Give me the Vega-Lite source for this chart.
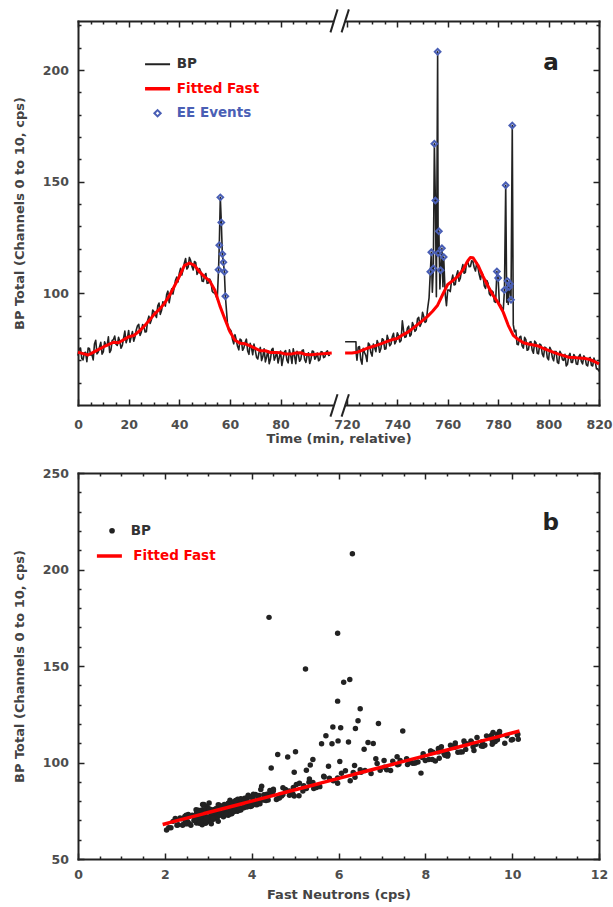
{
"$schema": "https://vega.github.io/schema/vega-lite/v6.json",
"padding": {"left": 13, "top": 8, "right": 0, "bottom": 0},
"autosize": {"type": "pad"},
"background": "white",
"spacing": 68,
"bounds": "flush",
"resolve": {"scale": {"color": "independent", "strokeDash": "independent"}, "legend": {"color": "independent", "strokeDash": "independent"}},
"config": {
  "view": {"stroke": null},
  "font": "DejaVu Sans",
  "axis": {"grid": false, "labelFont": "DejaVu Sans", "labelFontWeight": "bold", "labelFontSize": 12.5, "labelColor": "#4d4d4d", "titleFont": "DejaVu Sans", "titleFontWeight": "bold", "titleFontSize": 13, "titleColor": "#444444", "domainColor": "#222222", "domainWidth": 2, "domainCap": "square", "tickColor": "#222222", "tickWidth": 1.5},
  "legend": {"labelFont": "DejaVu Sans", "labelFontWeight": "bold", "labelFontSize": 13.5}
},
"datasets": {
"bp": [
{"t":0,"bp":72.1,"fn":2.92,"g":1},{"t":1,"bp":75.5,"fn":2.87,"g":1},{"t":2,"bp":70.2,"fn":2.82,"g":1},{"t":3,"bp":73.6,"fn":2.77,"g":1},{"t":4,"bp":75.5,"fn":2.72,"g":1},{"t":5,"bp":72.4,"fn":2.82,"g":1},{"t":6,"bp":70.2,"fn":2.92,"g":1},{"t":7,"bp":79.0,"fn":3.02,"g":1},{"t":8,"bp":73.7,"fn":3.12,"g":1},{"t":9,"bp":78.1,"fn":3.23,"g":1},
{"t":10,"bp":73.8,"fn":3.33,"g":1},{"t":11,"bp":76.9,"fn":3.41,"g":1},{"t":12,"bp":80.5,"fn":3.50,"g":1},{"t":13,"bp":74.6,"fn":3.58,"g":1},{"t":14,"bp":79.3,"fn":3.69,"g":1},{"t":15,"bp":77.2,"fn":3.67,"g":1},{"t":16,"bp":80.3,"fn":3.65,"g":1},{"t":17,"bp":75.4,"fn":3.75,"g":1},{"t":18,"bp":79.9,"fn":3.87,"g":1},{"t":19,"bp":77.9,"fn":3.97,"g":1},
{"t":20,"bp":83.4,"fn":4.09,"g":1},{"t":21,"bp":80.5,"fn":4.14,"g":1},{"t":22,"bp":78.6,"fn":4.19,"g":1},{"t":23,"bp":83.6,"fn":4.35,"g":1},{"t":24,"bp":86.1,"fn":4.50,"g":1},{"t":25,"bp":82.6,"fn":4.69,"g":1},{"t":26,"bp":85.3,"fn":4.87,"g":1},{"t":27,"bp":82.8,"fn":5.09,"g":1},{"t":28,"bp":89.8,"fn":5.32,"g":1},{"t":29,"bp":88.2,"fn":5.55,"g":1},
{"t":30,"bp":91.8,"fn":5.79,"g":1},{"t":31,"bp":89.2,"fn":5.98,"g":1},{"t":32,"bp":95.7,"fn":6.16,"g":1},{"t":33,"bp":92.3,"fn":6.38,"g":1},{"t":34,"bp":95.9,"fn":6.61,"g":1},{"t":35,"bp":99.5,"fn":6.89,"g":1},{"t":36,"bp":95.8,"fn":7.20,"g":1},{"t":37,"bp":102.0,"fn":7.57,"g":1},{"t":38,"bp":102.6,"fn":7.93,"g":1},{"t":39,"bp":107.3,"fn":8.30,"g":1},
{"t":40,"bp":109.0,"fn":8.68,"g":1},{"t":41,"bp":108.2,"fn":9.10,"g":1},{"t":42,"bp":113.6,"fn":9.51,"g":1},{"t":43,"bp":110.9,"fn":9.61,"g":1},{"t":44,"bp":116.1,"fn":9.71,"g":1},{"t":45,"bp":112.1,"fn":9.61,"g":1},{"t":46,"bp":114.3,"fn":9.53,"g":1},{"t":47,"bp":108.5,"fn":9.29,"g":1},{"t":48,"bp":111.1,"fn":9.05,"g":1},{"t":49,"bp":105.5,"fn":8.85,"g":1},
{"t":50,"bp":107.9,"fn":8.66,"g":1},{"t":51,"bp":104.5,"fn":8.51,"g":1},{"t":52,"bp":106.4,"fn":8.36,"g":1},{"t":53,"bp":101.0,"fn":8.00,"g":1},{"t":54,"bp":100.3,"fn":7.66,"g":1},{"t":55,"bp":97.5,"fn":7.06,"g":1},
{"t":0.5,"bp":75.3,"fn":2.90,"g":1},{"t":1.5,"bp":70.8,"fn":2.84,"g":1},{"t":2.5,"bp":73.4,"fn":2.79,"g":1},{"t":3.5,"bp":69.4,"fn":2.74,"g":1},{"t":4.5,"bp":75.3,"fn":2.77,"g":1},{"t":5.5,"bp":72.6,"fn":2.87,"g":1},{"t":6.5,"bp":77.3,"fn":2.97,"g":1},{"t":7.5,"bp":72.9,"fn":3.07,"g":1},{"t":8.5,"bp":76.0,"fn":3.18,"g":1},{"t":9.5,"bp":72.8,"fn":3.28,"g":1},
{"t":10.5,"bp":78.3,"fn":3.37,"g":1},{"t":11.5,"bp":76.6,"fn":3.46,"g":1},{"t":12.5,"bp":73.5,"fn":3.54,"g":1},{"t":13.5,"bp":78.9,"fn":3.63,"g":1},{"t":14.5,"bp":80.9,"fn":3.68,"g":1},{"t":15.5,"bp":76.7,"fn":3.66,"g":1},{"t":16.5,"bp":78.5,"fn":3.70,"g":1},{"t":17.5,"bp":76.7,"fn":3.81,"g":1},{"t":18.5,"bp":83.1,"fn":3.92,"g":1},{"t":19.5,"bp":79.8,"fn":4.03,"g":1},
{"t":20.5,"bp":78.1,"fn":4.12,"g":1},{"t":21.5,"bp":82.9,"fn":4.17,"g":1},{"t":22.5,"bp":80.5,"fn":4.27,"g":1},{"t":23.5,"bp":85.5,"fn":4.42,"g":1},{"t":24.5,"bp":81.2,"fn":4.59,"g":1},{"t":25.5,"bp":86.0,"fn":4.78,"g":1},{"t":26.5,"bp":82.7,"fn":4.98,"g":1},{"t":27.5,"bp":87.9,"fn":5.20,"g":1},{"t":28.5,"bp":86.5,"fn":5.43,"g":1},{"t":29.5,"bp":92.5,"fn":5.67,"g":1},
{"t":30.5,"bp":90.5,"fn":5.88,"g":1},{"t":31.5,"bp":94.4,"fn":6.07,"g":1},{"t":32.5,"bp":90.6,"fn":6.27,"g":1},{"t":33.5,"bp":96.2,"fn":6.50,"g":1},{"t":34.5,"bp":94.3,"fn":6.75,"g":1},{"t":35.5,"bp":101.0,"fn":7.05,"g":1},{"t":36.5,"bp":99.1,"fn":7.39,"g":1},{"t":37.5,"bp":99.7,"fn":7.75,"g":1},{"t":38.5,"bp":105.9,"fn":8.12,"g":1},{"t":39.5,"bp":105.1,"fn":8.49,"g":1},
{"t":40.5,"bp":111.2,"fn":8.89,"g":1},{"t":41.5,"bp":110.7,"fn":9.31,"g":1},{"t":42.5,"bp":115.6,"fn":9.56,"g":1},{"t":43.5,"bp":111.8,"fn":9.66,"g":1},{"t":44.5,"bp":114.7,"fn":9.66,"g":1},{"t":45.5,"bp":110.5,"fn":9.57,"g":1},{"t":46.5,"bp":113.8,"fn":9.41,"g":1},{"t":47.5,"bp":109.5,"fn":9.17,"g":1},{"t":48.5,"bp":109.7,"fn":8.95,"g":1},{"t":49.5,"bp":105.3,"fn":8.75,"g":1},
{"t":50.5,"bp":108.9,"fn":8.58,"g":1},{"t":51.5,"bp":104.7,"fn":8.43,"g":1},{"t":52.5,"bp":105.3,"fn":8.18,"g":1},{"t":53.5,"bp":100.3,"fn":7.83,"g":1},{"t":54.5,"bp":98.8,"fn":7.36,"g":1},
{"t":55.5,"bp":110.6,"fn":6.23,"g":1,"ee":1},{"t":55.8,"bp":121.6,"fn":6.45,"g":1,"ee":1},{"t":56.2,"bp":143.0,"fn":6.26,"g":1,"ee":1},{"t":56.6,"bp":131.8,"fn":5.98,"g":1,"ee":1},{"t":57.0,"bp":117.6,"fn":6.39,"g":1,"ee":1},{"t":57.4,"bp":113.9,"fn":5.71,"g":1,"ee":1},{"t":57.8,"bp":109.7,"fn":5.61,"g":1,"ee":1},{"t":58.2,"bp":98.7,"fn":5.35,"g":1,"ee":1},
{"t":59,"bp":87.0,"fn":4.96,"g":1},{"t":60,"bp":83.9,"fn":4.48,"g":1},{"t":61,"bp":79.4,"fn":4.16,"g":1},{"t":62,"bp":81.5,"fn":3.84,"g":1},{"t":63,"bp":76.3,"fn":3.72,"g":1},{"t":64,"bp":79.5,"fn":3.62,"g":1},{"t":65,"bp":74.5,"fn":3.58,"g":1},{"t":66,"bp":78.0,"fn":3.57,"g":1},{"t":67,"bp":74.2,"fn":3.50,"g":1},{"t":68,"bp":77.6,"fn":3.41,"g":1},{"t":69,"bp":72.5,"fn":3.33,"g":1},
{"t":70,"bp":74.6,"fn":3.23,"g":1},{"t":71,"bp":70.6,"fn":3.12,"g":1},{"t":72,"bp":75.8,"fn":3.04,"g":1},{"t":73,"bp":71.7,"fn":3.04,"g":1},{"t":74,"bp":69.3,"fn":3.04,"g":1},{"t":75,"bp":74.3,"fn":2.97,"g":1},{"t":76,"bp":70.5,"fn":2.90,"g":1},{"t":77,"bp":75.4,"fn":2.90,"g":1},{"t":78,"bp":71.7,"fn":2.90,"g":1},{"t":79,"bp":68.8,"fn":2.89,"g":1},
{"t":80,"bp":74.2,"fn":2.89,"g":1},{"t":81,"bp":70.8,"fn":2.84,"g":1},{"t":82,"bp":74.4,"fn":2.79,"g":1},{"t":83,"bp":68.9,"fn":2.79,"g":1},{"t":84,"bp":72.2,"fn":2.79,"g":1},{"t":85,"bp":75.2,"fn":2.82,"g":1},{"t":86,"bp":68.5,"fn":2.87,"g":1},{"t":87,"bp":72.8,"fn":2.87,"g":1},{"t":88,"bp":70.5,"fn":2.89,"g":1},{"t":89,"bp":74.7,"fn":2.82,"g":1},
{"t":90,"bp":69.1,"fn":2.75,"g":1},{"t":91,"bp":73.4,"fn":2.73,"g":1},{"t":92,"bp":70.5,"fn":2.73,"g":1},{"t":93,"bp":74.0,"fn":2.75,"g":1},{"t":94,"bp":71.5,"fn":2.77,"g":1},{"t":95,"bp":69.8,"fn":2.79,"g":1},{"t":96,"bp":73.9,"fn":2.80,"g":1},{"t":97,"bp":71.2,"fn":2.82,"g":1},{"t":98,"bp":73.7,"fn":2.84,"g":1},{"t":99,"bp":72.2,"fn":2.85,"g":1},
{"t":59.5,"bp":83.4,"fn":4.72,"g":1},{"t":60.5,"bp":83.1,"fn":4.32,"g":1},{"t":61.5,"bp":77.4,"fn":4.00,"g":1},{"t":62.5,"bp":79.1,"fn":3.78,"g":1},{"t":63.5,"bp":74.7,"fn":3.67,"g":1},{"t":64.5,"bp":79.1,"fn":3.60,"g":1},{"t":65.5,"bp":75.6,"fn":3.57,"g":1},{"t":66.5,"bp":79.5,"fn":3.53,"g":1},{"t":67.5,"bp":72.7,"fn":3.46,"g":1},{"t":68.5,"bp":75.7,"fn":3.37,"g":1},{"t":69.5,"bp":77.3,"fn":3.28,"g":1},
{"t":70.5,"bp":71.4,"fn":3.18,"g":1},{"t":71.5,"bp":73.6,"fn":3.08,"g":1},{"t":72.5,"bp":69.9,"fn":3.04,"g":1},{"t":73.5,"bp":75.2,"fn":3.04,"g":1},{"t":74.5,"bp":71.6,"fn":3.01,"g":1},{"t":75.5,"bp":68.5,"fn":2.94,"g":1},{"t":76.5,"bp":74.8,"fn":2.90,"g":1},{"t":77.5,"bp":70.1,"fn":2.90,"g":1},{"t":78.5,"bp":73.7,"fn":2.90,"g":1},{"t":79.5,"bp":71.3,"fn":2.89,"g":1},
{"t":80.5,"bp":67.7,"fn":2.86,"g":1},{"t":81.5,"bp":73.7,"fn":2.81,"g":1},{"t":82.5,"bp":70.1,"fn":2.79,"g":1},{"t":83.5,"bp":74.7,"fn":2.79,"g":1},{"t":84.5,"bp":68.6,"fn":2.80,"g":1},{"t":85.5,"bp":72.0,"fn":2.84,"g":1},{"t":86.5,"bp":74.1,"fn":2.87,"g":1},{"t":87.5,"bp":69.6,"fn":2.88,"g":1},{"t":88.5,"bp":74.4,"fn":2.85,"g":1},{"t":89.5,"bp":70.4,"fn":2.79,"g":1},
{"t":90.5,"bp":72.3,"fn":2.74,"g":1},{"t":91.5,"bp":68.6,"fn":2.73,"g":1},{"t":92.5,"bp":74.2,"fn":2.74,"g":1},{"t":93.5,"bp":70.5,"fn":2.76,"g":1},{"t":94.5,"bp":73.3,"fn":2.78,"g":1},{"t":95.5,"bp":70.3,"fn":2.79,"g":1},{"t":96.5,"bp":73.7,"fn":2.81,"g":1},{"t":97.5,"bp":71.6,"fn":2.83,"g":1},{"t":98.5,"bp":74.3,"fn":2.84,"g":1},{"t":99.5,"bp":72.4,"fn":2.86,"g":1},
{"t":719.3,"bp":78.3,"fn":2.87,"g":2},{"t":723.6,"bp":78.3,"fn":2.90,"g":2},{"t":723.7,"bp":73.2,"fn":2.90,"g":2},{"t":724,"bp":70.1,"fn":2.92,"g":2},{"t":725,"bp":76.2,"fn":2.99,"g":2},{"t":726,"bp":68.3,"fn":3.07,"g":2},{"t":727,"bp":73.5,"fn":3.16,"g":2},{"t":728,"bp":69.5,"fn":3.23,"g":2},{"t":729,"bp":77.0,"fn":3.29,"g":2},
{"t":730,"bp":71.9,"fn":3.35,"g":2},{"t":731,"bp":75.8,"fn":3.41,"g":2},{"t":732,"bp":78.9,"fn":3.46,"g":2},{"t":733,"bp":73.6,"fn":3.53,"g":2},{"t":734,"bp":79.7,"fn":3.60,"g":2},{"t":735,"bp":75.0,"fn":3.67,"g":2},{"t":736,"bp":81.2,"fn":3.75,"g":2},{"t":737,"bp":76.5,"fn":3.82,"g":2},{"t":738,"bp":80.6,"fn":3.89,"g":2},{"t":739,"bp":77.4,"fn":3.94,"g":2},
{"t":740,"bp":82.3,"fn":3.97,"g":2},{"t":741,"bp":78.2,"fn":4.09,"g":2},{"t":742,"bp":87.7,"fn":4.23,"g":2},{"t":743,"bp":80.3,"fn":4.33,"g":2},{"t":744,"bp":84.4,"fn":4.43,"g":2},{"t":745,"bp":80.8,"fn":4.57,"g":2},{"t":746,"bp":86.9,"fn":4.72,"g":2},{"t":747,"bp":83.0,"fn":4.87,"g":2},{"t":748,"bp":88.6,"fn":5.03,"g":2},{"t":749,"bp":85.2,"fn":5.18,"g":2},
{"t":750,"bp":91.5,"fn":5.33,"g":2},{"t":751,"bp":87.0,"fn":5.49,"g":2},{"t":752,"bp":92.9,"fn":5.66,"g":2},{"t":752.6,"bp":98.0,"fn":5.77,"g":2},
{"t":724.5,"bp":75.9,"fn":2.96,"g":2},{"t":725.5,"bp":70.4,"fn":3.03,"g":2},{"t":726.5,"bp":75.4,"fn":3.12,"g":2},{"t":727.5,"bp":72.2,"fn":3.19,"g":2},{"t":728.5,"bp":77.8,"fn":3.26,"g":2},{"t":729.5,"bp":73.5,"fn":3.32,"g":2},{"t":730.5,"bp":77.3,"fn":3.38,"g":2},{"t":731.5,"bp":73.9,"fn":3.44,"g":2},{"t":732.5,"bp":77.4,"fn":3.50,"g":2},{"t":733.5,"bp":75.3,"fn":3.57,"g":2},
{"t":734.5,"bp":79.2,"fn":3.63,"g":2},{"t":735.5,"bp":75.2,"fn":3.71,"g":2},{"t":736.5,"bp":79.2,"fn":3.79,"g":2},{"t":737.5,"bp":77.3,"fn":3.86,"g":2},{"t":738.5,"bp":82.1,"fn":3.91,"g":2},{"t":739.5,"bp":78.5,"fn":3.96,"g":2},{"t":740.5,"bp":81.1,"fn":4.03,"g":2},{"t":741.5,"bp":78.9,"fn":4.16,"g":2},{"t":742.5,"bp":83.3,"fn":4.28,"g":2},{"t":743.5,"bp":80.6,"fn":4.38,"g":2},
{"t":744.5,"bp":85.3,"fn":4.50,"g":2},{"t":745.5,"bp":81.6,"fn":4.64,"g":2},{"t":746.5,"bp":85.4,"fn":4.80,"g":2},{"t":747.5,"bp":83.7,"fn":4.95,"g":2},{"t":748.5,"bp":89.3,"fn":5.10,"g":2},{"t":749.5,"bp":86.5,"fn":5.26,"g":2},{"t":750.5,"bp":89.6,"fn":5.41,"g":2},{"t":751.5,"bp":87.5,"fn":5.57,"g":2},
{"t":753.1,"bp":109.7,"fn":5.85,"g":2,"ee":1},{"t":753.5,"bp":118.4,"fn":5.87,"g":2,"ee":1},{"t":753.9,"bp":100.5,"fn":6.03,"g":2},{"t":754.3,"bp":111.2,"fn":5.99,"g":2,"ee":1},{"t":754.7,"bp":167.0,"fn":5.98,"g":2,"ee":1},{"t":755.1,"bp":141.6,"fn":6.12,"g":2,"ee":1},{"t":755.5,"bp":98.5,"fn":6.37,"g":2},
{"t":756.0,"bp":208.2,"fn":6.32,"g":2,"ee":1},{"t":756.2,"bp":118.0,"fn":6.05,"g":2,"ee":1},{"t":756.5,"bp":127.8,"fn":6.50,"g":2,"ee":1},{"t":756.9,"bp":102.0,"fn":6.86,"g":2},{"t":757.2,"bp":110.4,"fn":6.68,"g":2,"ee":1},{"t":757.7,"bp":120.2,"fn":6.92,"g":2,"ee":1},{"t":758.1,"bp":103.0,"fn":7.35,"g":2},{"t":758.4,"bp":116.3,"fn":7.48,"g":2,"ee":1},
{"t":759,"bp":99.6,"fn":7.71,"g":2},{"t":759.5,"bp":94.5,"fn":7.90,"g":2},{"t":760,"bp":101.5,"fn":8.08,"g":2},{"t":761,"bp":100.8,"fn":8.23,"g":2},{"t":762,"bp":108.2,"fn":8.37,"g":2},{"t":763,"bp":104.0,"fn":8.52,"g":2},{"t":764,"bp":110.1,"fn":8.69,"g":2},{"t":765,"bp":106.8,"fn":8.93,"g":2},{"t":766,"bp":112.9,"fn":9.19,"g":2},{"t":767,"bp":109.4,"fn":9.54,"g":2},
{"t":768,"bp":113.8,"fn":9.88,"g":2},{"t":769,"bp":112.0,"fn":10.14,"g":2},{"t":770,"bp":114.3,"fn":10.12,"g":2},{"t":771,"bp":110.0,"fn":9.83,"g":2},{"t":772,"bp":111.5,"fn":9.54,"g":2},{"t":773,"bp":106.2,"fn":9.12,"g":2},{"t":774,"bp":108.0,"fn":8.69,"g":2},{"t":775,"bp":102.2,"fn":8.32,"g":2},{"t":776,"bp":104.5,"fn":7.95,"g":2},{"t":777,"bp":99.0,"fn":7.59,"g":2},
{"t":778,"bp":100.6,"fn":7.25,"g":2},{"t":779,"bp":96.0,"fn":6.96,"g":2},
{"t":760.5,"bp":101.5,"fn":8.16,"g":2},{"t":761.5,"bp":105.5,"fn":8.30,"g":2},{"t":762.5,"bp":103.8,"fn":8.45,"g":2},{"t":763.5,"bp":108.1,"fn":8.61,"g":2},{"t":764.5,"bp":105.4,"fn":8.81,"g":2},{"t":765.5,"bp":110.6,"fn":9.06,"g":2},{"t":766.5,"bp":109.0,"fn":9.37,"g":2},{"t":767.5,"bp":114.2,"fn":9.71,"g":2},{"t":768.5,"bp":111.9,"fn":10.01,"g":2},{"t":769.5,"bp":114.6,"fn":10.13,"g":2},
{"t":770.5,"bp":111.6,"fn":9.98,"g":2},{"t":771.5,"bp":113.8,"fn":9.69,"g":2},{"t":772.5,"bp":108.4,"fn":9.33,"g":2},{"t":773.5,"bp":109.4,"fn":8.91,"g":2},{"t":774.5,"bp":103.3,"fn":8.51,"g":2},{"t":775.5,"bp":105.8,"fn":8.13,"g":2},{"t":776.5,"bp":99.8,"fn":7.77,"g":2},{"t":777.5,"bp":101.1,"fn":7.42,"g":2},{"t":778.5,"bp":96.3,"fn":7.11,"g":2},
{"t":779.5,"bp":109.8,"fn":6.80,"g":2,"ee":1},{"t":780,"bp":106.9,"fn":6.59,"g":2,"ee":1},{"t":780.5,"bp":95.0,"fn":6.52,"g":2},{"t":781,"bp":94.8,"fn":6.34,"g":2},{"t":782,"bp":92.0,"fn":5.98,"g":2},
{"t":782.5,"bp":101.5,"fn":5.41,"g":2,"ee":1},{"t":783.0,"bp":148.4,"fn":5.24,"g":2,"ee":1},{"t":783.4,"bp":96.0,"fn":5.26,"g":2},{"t":783.7,"bp":105.6,"fn":5.01,"g":2,"ee":1},{"t":784.0,"bp":95.0,"fn":4.98,"g":2},{"t":784.4,"bp":102.8,"fn":4.83,"g":2,"ee":1},{"t":784.7,"bp":104.2,"fn":4.60,"g":2,"ee":1},{"t":785.1,"bp":97.1,"fn":4.45,"g":2,"ee":1},{"t":785.6,"bp":175.2,"fn":4.40,"g":2,"ee":1},
{"t":786,"bp":86.0,"fn":4.21,"g":2},{"t":787,"bp":83.5,"fn":4.04,"g":2},{"t":788,"bp":77.0,"fn":3.89,"g":2},{"t":789,"bp":80.8,"fn":3.77,"g":2},{"t":790,"bp":75.5,"fn":3.65,"g":2},{"t":791,"bp":79.3,"fn":3.60,"g":2},{"t":792,"bp":74.8,"fn":3.55,"g":2},{"t":793,"bp":78.4,"fn":3.52,"g":2},{"t":794,"bp":73.2,"fn":3.48,"g":2},{"t":795,"bp":77.9,"fn":3.43,"g":2},
{"t":796,"bp":72.9,"fn":3.40,"g":2},{"t":797,"bp":76.8,"fn":3.29,"g":2},{"t":798,"bp":71.6,"fn":3.21,"g":2},{"t":799,"bp":75.6,"fn":3.14,"g":2},{"t":800,"bp":70.2,"fn":3.07,"g":2},{"t":801,"bp":74.6,"fn":2.99,"g":2},{"t":802,"bp":69.8,"fn":2.92,"g":2},{"t":803,"bp":73.9,"fn":2.85,"g":2},{"t":804,"bp":68.6,"fn":2.79,"g":2},{"t":805,"bp":72.9,"fn":2.72,"g":2},
{"t":806,"bp":70.0,"fn":2.67,"g":2},{"t":807,"bp":67.5,"fn":2.60,"g":2},{"t":808,"bp":71.9,"fn":2.55,"g":2},{"t":809,"bp":69.1,"fn":2.53,"g":2},{"t":810,"bp":72.6,"fn":2.53,"g":2},{"t":811,"bp":68.4,"fn":2.51,"g":2},{"t":812,"bp":71.8,"fn":2.50,"g":2},{"t":813,"bp":69.5,"fn":2.48,"g":2},{"t":814,"bp":72.0,"fn":2.46,"g":2},{"t":815,"bp":68.0,"fn":2.43,"g":2},
{"t":816,"bp":70.9,"fn":2.39,"g":2},{"t":817,"bp":67.8,"fn":2.31,"g":2},{"t":818,"bp":71.0,"fn":2.24,"g":2},{"t":819,"bp":66.2,"fn":2.14,"g":2},{"t":820,"bp":65.0,"fn":2.04,"g":2},
{"t":786.5,"bp":82.8,"fn":4.13,"g":2},{"t":787.5,"bp":77.2,"fn":3.97,"g":2},{"t":788.5,"bp":80.4,"fn":3.83,"g":2},{"t":789.5,"bp":76.5,"fn":3.71,"g":2},{"t":790.5,"bp":80.3,"fn":3.63,"g":2},{"t":791.5,"bp":74.5,"fn":3.58,"g":2},{"t":792.5,"bp":78.1,"fn":3.53,"g":2},{"t":793.5,"bp":74.6,"fn":3.50,"g":2},{"t":794.5,"bp":78.6,"fn":3.46,"g":2},{"t":795.5,"bp":73.2,"fn":3.41,"g":2},
{"t":796.5,"bp":77.3,"fn":3.35,"g":2},{"t":797.5,"bp":72.9,"fn":3.25,"g":2},{"t":798.5,"bp":75.9,"fn":3.18,"g":2},{"t":799.5,"bp":71.1,"fn":3.11,"g":2},{"t":800.5,"bp":75.8,"fn":3.03,"g":2},{"t":801.5,"bp":71.3,"fn":2.96,"g":2},{"t":802.5,"bp":74.0,"fn":2.89,"g":2},{"t":803.5,"bp":69.1,"fn":2.82,"g":2},{"t":804.5,"bp":74.0,"fn":2.75,"g":2},{"t":805.5,"bp":70.3,"fn":2.69,"g":2},
{"t":806.5,"bp":72.7,"fn":2.63,"g":2},{"t":807.5,"bp":68.2,"fn":2.57,"g":2},{"t":808.5,"bp":73.1,"fn":2.54,"g":2},{"t":809.5,"bp":69.1,"fn":2.53,"g":2},{"t":810.5,"bp":71.7,"fn":2.52,"g":2},{"t":811.5,"bp":68.2,"fn":2.51,"g":2},{"t":812.5,"bp":72.7,"fn":2.49,"g":2},{"t":813.5,"bp":68.4,"fn":2.47,"g":2},{"t":814.5,"bp":71.1,"fn":2.45,"g":2},{"t":815.5,"bp":67.5,"fn":2.41,"g":2},
{"t":816.5,"bp":71.3,"fn":2.35,"g":2},{"t":817.5,"bp":67.5,"fn":2.28,"g":2},{"t":818.5,"bp":69.5,"fn":2.19,"g":2},{"t":819.5,"bp":66.2,"fn":2.09,"g":2}
],
"fit": [
{"t":0,"ff":73.6,"g":1},{"t":2,"ff":73.0,"g":1},{"t":4,"ff":72.4,"g":1},{"t":6,"ff":73.6,"g":1},{"t":8,"ff":74.8,"g":1},{"t":10,"ff":76.0,"g":1},{"t":12,"ff":77.0,"g":1},{"t":14,"ff":78.1,"g":1},{"t":16,"ff":77.9,"g":1},{"t":18,"ff":79.2,"g":1},
{"t":20,"ff":80.5,"g":1},{"t":22,"ff":81.1,"g":1},{"t":24,"ff":82.9,"g":1},{"t":26,"ff":85.1,"g":1},{"t":28,"ff":87.7,"g":1},{"t":30,"ff":90.5,"g":1},{"t":32,"ff":92.7,"g":1},{"t":34,"ff":95.3,"g":1},{"t":36,"ff":98.8,"g":1},{"t":38,"ff":103.1,"g":1},
{"t":40,"ff":107.5,"g":1},{"t":42,"ff":112.4,"g":1},{"t":44,"ff":113.6,"g":1},{"t":46,"ff":112.5,"g":1},{"t":48,"ff":109.7,"g":1},{"t":50,"ff":107.4,"g":1},{"t":52,"ff":105.6,"g":1},{"t":54,"ff":101.5,"g":1},{"t":56,"ff":94.5,"g":1},{"t":58,"ff":88.5,"g":1},
{"t":60,"ff":82.8,"g":1},{"t":62,"ff":79.0,"g":1},{"t":64,"ff":77.7,"g":1},{"t":66,"ff":77.4,"g":1},{"t":68,"ff":76.5,"g":1},{"t":70,"ff":75.4,"g":1},{"t":72,"ff":74.3,"g":1},{"t":74,"ff":74.3,"g":1},{"t":76,"ff":73.5,"g":1},{"t":78,"ff":73.5,"g":1},
{"t":80,"ff":73.4,"g":1},{"t":82,"ff":72.8,"g":1},{"t":84,"ff":72.8,"g":1},{"t":86,"ff":73.3,"g":1},{"t":88,"ff":73.4,"g":1},{"t":90,"ff":72.6,"g":1},{"t":92,"ff":72.5,"g":1},{"t":94,"ff":72.7,"g":1},{"t":96,"ff":72.9,"g":1},{"t":98,"ff":73.1,"g":1},{"t":100.2,"ff":73.3,"g":1},
{"t":719.3,"ff":73.3,"g":2},{"t":722,"ff":73.3,"g":2},{"t":724,"ff":73.6,"g":2},{"t":726,"ff":74.5,"g":2},{"t":728,"ff":75.4,"g":2},{"t":730,"ff":76.1,"g":2},{"t":732,"ff":76.8,"g":2},{"t":734,"ff":77.6,"g":2},{"t":736,"ff":78.5,"g":2},{"t":738,"ff":79.3,"g":2},
{"t":740,"ff":79.8,"g":2},{"t":742,"ff":81.3,"g":2},{"t":744,"ff":82.5,"g":2},{"t":746,"ff":84.2,"g":2},{"t":748,"ff":86.0,"g":2},{"t":750,"ff":87.8,"g":2},{"t":752,"ff":89.7,"g":2},{"t":754,"ff":92.0,"g":2},{"t":756,"ff":94.7,"g":2},{"t":758,"ff":99.5,"g":2},
{"t":760,"ff":104.0,"g":2},{"t":762,"ff":105.7,"g":2},{"t":764,"ff":107.6,"g":2},{"t":766,"ff":110.5,"g":2},{"t":768,"ff":114.6,"g":2},{"t":769,"ff":116.1,"g":2},{"t":770,"ff":116.0,"g":2},{"t":772,"ff":112.6,"g":2},{"t":774,"ff":107.6,"g":2},{"t":776,"ff":103.2,"g":2},
{"t":778,"ff":99.1,"g":2},{"t":780,"ff":95.8,"g":2},{"t":782,"ff":91.6,"g":2},{"t":784,"ff":85.7,"g":2},{"t":786,"ff":81.2,"g":2},{"t":788,"ff":79.3,"g":2},{"t":790,"ff":77.9,"g":2},{"t":792,"ff":77.3,"g":2},{"t":794,"ff":76.9,"g":2},{"t":796,"ff":76.4,"g":2},
{"t":798,"ff":75.3,"g":2},{"t":800,"ff":74.5,"g":2},{"t":802,"ff":73.6,"g":2},{"t":804,"ff":72.8,"g":2},{"t":806,"ff":72.1,"g":2},{"t":808,"ff":71.4,"g":2},{"t":810,"ff":71.3,"g":2},{"t":812,"ff":71.1,"g":2},{"t":814,"ff":70.9,"g":2},{"t":816,"ff":70.5,"g":2},{"t":818,"ff":69.6,"g":2},{"t":820,"ff":68.4,"g":2}
],
"fitb": [{"fn":1.95,"ff":67.9},{"fn":10.17,"ff":116.3}],
"gap": [{"a":100.8,"b":719.2,"c":222},{"a":100.8,"b":719.2,"c":50}],
"brk": [{"a":99.7,"b":102.5,"c":216.9,"d":227.2},{"a":717.9,"b":720.8,"c":216.9,"d":227.2},{"a":99.7,"b":102.5,"c":44.8,"d":54.8},{"a":717.9,"b":720.8,"c":44.8,"d":54.8}]
},
"vconcat": [
{
  "width": 521, "height": 384,
  "resolve": {"axis": {"x": "independent", "y": "independent"}},
  "layer": [
    {
      "data": {"name": "bp"},
      "mark": {"type": "line", "strokeWidth": 1.6, "strokeJoin": "round"},
      "encoding": {
        "x": {"field": "t", "type": "quantitative", "scale": {"domain": [0, 102.6, 716.4, 820], "range": [0, 259.8, 259.8, 521], "nice": false, "zero": false},
              "axis": {"orient": "bottom", "values": [0,20,40,60,80,720,740,760,780,800,820], "format": "d", "tickSize": -6, "labelPadding": 29.5, "labelBaseline": "alphabetic", "labelFlush": false, "labelOverlap": false, "title": "Time (min, relative)", "titleY": 37, "titleBaseline": "alphabetic"}},
        "y": {"field": "bp", "type": "quantitative", "scale": {"domain": [50, 222], "nice": false, "zero": false},
              "axis": {"orient": "left", "values": [100,150,200], "format": "d", "tickSize": -6, "labelPadding": 15.6, "labelFlush": false, "labelOverlap": false, "title": "BP Total (Channels 0 to 10, cps)", "titleX": -59, "titleBaseline": "middle"}},
        "detail": {"field": "g", "type": "nominal"},
        "color": {"datum": "BP", "type": "nominal", "scale": {"domain": ["BP", "Fitted Fast", "EE Events"], "range": ["#222222", "#ff0000", "#4a5fb5"]},
          "legend": {"orient": "none", "legendX": 72.8, "legendY": 36.5, "title": null, "padding": 0, "symbolSize": 625, "rowPadding": 9.5, "labelOffset": 12.5,
            "encode": {
              "symbols": {"update": {
                "shape": {"signal": "datum.value === 'EE Events' ? 'diamond' : 'stroke'"},
                "size": {"signal": "datum.value === 'EE Events' ? 40 : 625"},
                "strokeWidth": {"signal": "datum.value === 'Fitted Fast' ? 3.5 : 2"},
                "stroke": {"signal": "datum.value === 'BP' ? '#222222' : datum.value === 'Fitted Fast' ? '#ff0000' : '#4a5fb5'"},
                "fill": {"value": "transparent"},
                "opacity": {"value": 1}
              }},
              "labels": {"update": {
                "fill": {"signal": "datum.value === 'BP' ? '#333333' : datum.value === 'Fitted Fast' ? '#ff0000' : '#4a5fb5'"}
              }}
            }
          }
        }
      }
    },
    {
      "data": {"name": "fit"},
      "mark": {"type": "line", "strokeWidth": 3, "strokeJoin": "round"},
      "encoding": {
        "x": {"field": "t", "type": "quantitative", "axis": {"orient": "top", "values": [0,20,40,60,80,720,740,760,780,800,820], "tickSize": -6, "labels": false, "title": null}},
        "y": {"field": "ff", "type": "quantitative", "axis": {"orient": "right", "values": [100,150,200], "tickSize": -6, "labels": false, "title": null}},
        "detail": {"field": "g", "type": "nominal"},
        "color": {"datum": "Fitted Fast", "type": "nominal"}
      }
    },
    {
      "data": {"name": "bp"},
      "transform": [{"filter": "datum.ee"}],
      "mark": {"type": "point", "shape": "diamond", "filled": false, "strokeWidth": 2, "size": 32, "opacity": 1},
      "encoding": {
        "x": {"field": "t", "type": "quantitative", "axis": {"orient": "bottom", "values": [5,10,15,25,30,35,45,50,55,65,70,75,85,90,95,725,730,735,745,750,755,765,770,775,785,790,795,805,810,815], "tickSize": -3, "labels": false, "domain": false, "title": null}},
        "y": {"field": "bp", "type": "quantitative", "axis": {"orient": "left", "values": [60,70,80,90,110,120,130,140,160,170,180,190,210,220], "tickSize": -3, "labels": false, "domain": false, "title": null}},
        "color": {"datum": "EE Events", "type": "nominal"}
      }
    },
    {
      "data": {"name": "gap"},
      "mark": {"type": "rule", "color": "white", "strokeWidth": 4},
      "encoding": {
        "x": {"field": "a", "type": "quantitative", "axis": null},
        "x2": {"field": "b"},
        "y": {"field": "c", "type": "quantitative", "axis": null}
      }
    },
    {
      "data": {"name": "brk"},
      "mark": {"type": "rule", "color": "#222222", "strokeWidth": 2},
      "encoding": {
        "x": {"field": "a", "type": "quantitative", "axis": {"orient": "top", "values": [5,10,15,25,30,35,45,50,55,65,70,75,85,90,95,725,730,735,745,750,755,765,770,775,785,790,795,805,810,815], "tickSize": -3, "labels": false, "domain": false, "title": null}},
        "x2": {"field": "b"},
        "y": {"field": "c", "type": "quantitative", "axis": {"orient": "right", "values": [60,70,80,90,110,120,130,140,160,170,180,190,210,220], "tickSize": -3, "labels": false, "domain": false, "title": null}},
        "y2": {"field": "d"}
      }
    },
    {
      "data": {"values": [{}]},
      "mark": {"type": "text", "text": "a", "font": "DejaVu Sans", "fontSize": 23, "fontWeight": "bold", "color": "#222222", "align": "center", "baseline": "middle"},
      "encoding": {
        "x": {"datum": 801, "type": "quantitative", "axis": null},
        "y": {"datum": 203, "type": "quantitative", "axis": null}
      }
    }
  ]
},
{
  "width": 521, "height": 386,
  "resolve": {"axis": {"x": "independent", "y": "independent"}},
  "layer": [
    {
      "data": {"name": "bp"},
      "transform": [{"filter": "!datum.ee"}],
      "mark": {"type": "point", "shape": "circle", "filled": true, "size": 30, "opacity": 1},
      "encoding": {
        "x": {"field": "fn", "type": "quantitative", "scale": {"domain": [0, 12], "nice": false, "zero": false},
              "axis": {"orient": "bottom", "values": [0,2,4,6,8,10,12], "format": "d", "tickSize": -6, "labelPadding": 25, "labelBaseline": "alphabetic", "labelFlush": false, "labelOverlap": false, "title": "Fast Neutrons (cps)", "titleY": 39.6, "titleBaseline": "alphabetic"}},
        "y": {"field": "bp", "type": "quantitative", "scale": {"domain": [50, 250], "nice": false, "zero": false},
              "axis": {"orient": "left", "values": [50,100,150,200,250], "format": "d", "tickSize": -6, "labelPadding": 15.6, "labelFlush": false, "labelOverlap": false, "title": "BP Total (Channels 0 to 10, cps)", "titleX": -59, "titleBaseline": "middle"}},
        "color": {"datum": "BP", "type": "nominal", "scale": {"domain": ["BP"], "range": ["#222222"]},
          "legend": {"orient": "none", "legendX": 27.3, "legendY": 51, "title": null, "padding": 0, "symbolType": "circle", "symbolSize": 32, "symbolStrokeWidth": 0, "symbolOpacity": 1, "labelOffset": 12, "labelColor": "#333333"}}
      }
    },
    {
      "data": {"name": "bp"},
      "transform": [{"filter": "datum.ee"}],
      "mark": {"type": "point", "shape": "circle", "filled": true, "size": 30, "opacity": 1},
      "encoding": {
        "x": {"field": "fn", "type": "quantitative", "axis": {"orient": "top", "values": [0,2,4,6,8,10,12], "tickSize": -6, "labels": false, "title": null}},
        "y": {"field": "bp", "type": "quantitative", "axis": {"orient": "right", "values": [50,100,150,200,250], "tickSize": -6, "labels": false, "title": null}},
        "color": {"datum": "BP", "type": "nominal", "legend": null}
      }
    },
    {
      "data": {"name": "fitb"},
      "mark": {"type": "line", "strokeWidth": 3.5, "color": "#ff0000"},
      "encoding": {
        "x": {"field": "fn", "type": "quantitative", "axis": {"orient": "bottom", "values": [0.5,1,1.5,2.5,3,3.5,4.5,5,5.5,6.5,7,7.5,8.5,9,9.5,10.5,11,11.5], "tickSize": -3, "labels": false, "domain": false, "title": null}},
        "y": {"field": "ff", "type": "quantitative", "axis": {"orient": "left", "values": [60,70,80,90,110,120,130,140,160,170,180,190,210,220,230,240], "tickSize": -3, "labels": false, "domain": false, "title": null}},
        "strokeDash": {"datum": "Fitted Fast", "type": "nominal", "scale": {"domain": ["Fitted Fast"], "range": [[1, 0]]},
          "legend": {"orient": "none", "legendX": 16.9, "legendY": 68.5, "title": null, "padding": 0, "symbolType": "stroke", "symbolSize": 625, "symbolStrokeWidth": 3.5, "symbolStrokeColor": "#ff0000", "labelOffset": 9.4, "labelColor": "#ff0000"}}
      }
    },
    {
      "data": {"values": [{}]},
      "mark": {"type": "text", "text": "b", "font": "DejaVu Sans", "fontSize": 23, "fontWeight": "bold", "color": "#222222", "align": "center", "baseline": "middle"},
      "encoding": {
        "x": {"datum": 10.89, "type": "quantitative", "axis": {"orient": "top", "values": [0.5,1,1.5,2.5,3,3.5,4.5,5,5.5,6.5,7,7.5,8.5,9,9.5,10.5,11,11.5], "tickSize": -3, "labels": false, "domain": false, "title": null}},
        "y": {"datum": 224, "type": "quantitative", "axis": {"orient": "right", "values": [60,70,80,90,110,120,130,140,160,170,180,190,210,220,230,240], "tickSize": -3, "labels": false, "domain": false, "title": null}}
      }
    }
  ]
}
]
}
